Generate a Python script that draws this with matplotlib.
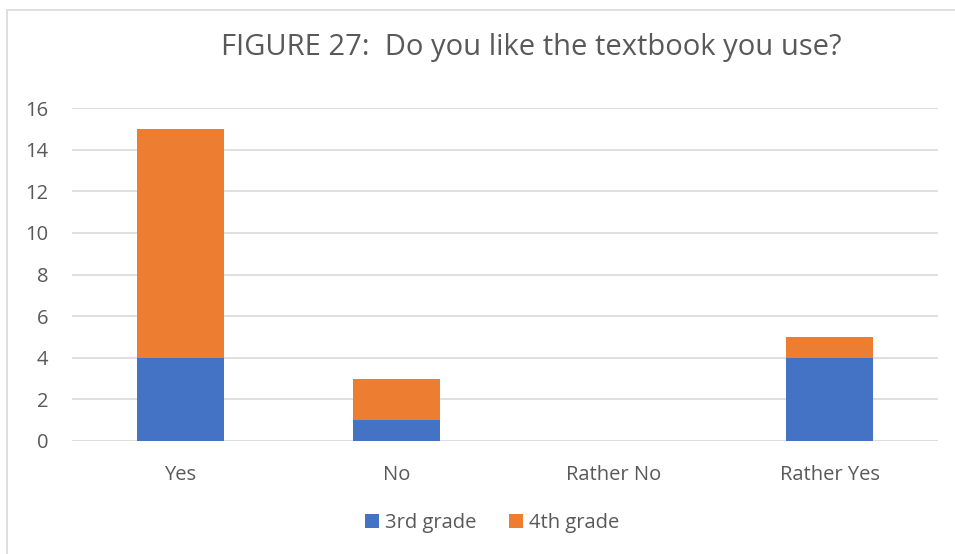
import matplotlib.pyplot as plt
import matplotlib as mpl
import numpy as np

mpl.rcParams.update({
    'font.family': ['Open Sans', 'DejaVu Sans'],
    'text.color': '#595959',
    'xtick.color': '#595959',
    'ytick.color': '#595959',
})

categories = ['Yes', 'No', 'Rather No', 'Rather Yes']
grade3 = [4, 1, 0, 4]
grade4 = [11, 2, 0, 1]
series_names = ['3rd grade', '4th grade']
colors = ['#4472C4', '#ED7D31']

fig = plt.figure(figsize=[9.55, 5.54], dpi=100)
# light chart border
fig.patches.append(mpl.patches.Rectangle((7/955, -0.01), 1.0, 1 - 10/554 + 0.01,
                                         transform=fig.transFigure, fill=False,
                                         edgecolor='#d9d9d9', linewidth=1.2))
ax = fig.add_axes([72/955, 1 - 441/554, 866/955, 333/554])

x = np.arange(len(categories))
w = 0.4
ax.bar(x, grade3, w, color=colors[0], label=series_names[0], zorder=3)
ax.bar(x, grade4, w, bottom=grade3, color=colors[1], label=series_names[1], zorder=3)

ax.set_xlim(-0.5, len(categories) - 0.5)
ax.set_ylim(0, 16)
ax.set_yticks(np.arange(0, 17, 2))
ax.set_xticks(x)
ax.set_xticklabels(categories)
ax.yaxis.grid(True, color='#d9d9d9', linewidth=1.2, zorder=0)
for s in ax.spines.values():
    s.set_visible(False)
ax.tick_params(length=0, labelsize=14.5)
ax.tick_params(axis='x', pad=17)
ax.tick_params(axis='y', pad=17)

fig.text(531/955, 1 - 48/554, 'FIGURE 27:  Do you like the textbook you use?',
         ha='center', va='center', fontsize=21, color='#595959')

fig.legend(loc='center', bbox_to_anchor=(492/955, 1 - 523/554), ncol=2, frameon=False,
           fontsize=14.5, handlelength=0.7, handleheight=0.7, handletextpad=0.3,
           columnspacing=1.6)

fig.savefig('out.png', dpi=100)
